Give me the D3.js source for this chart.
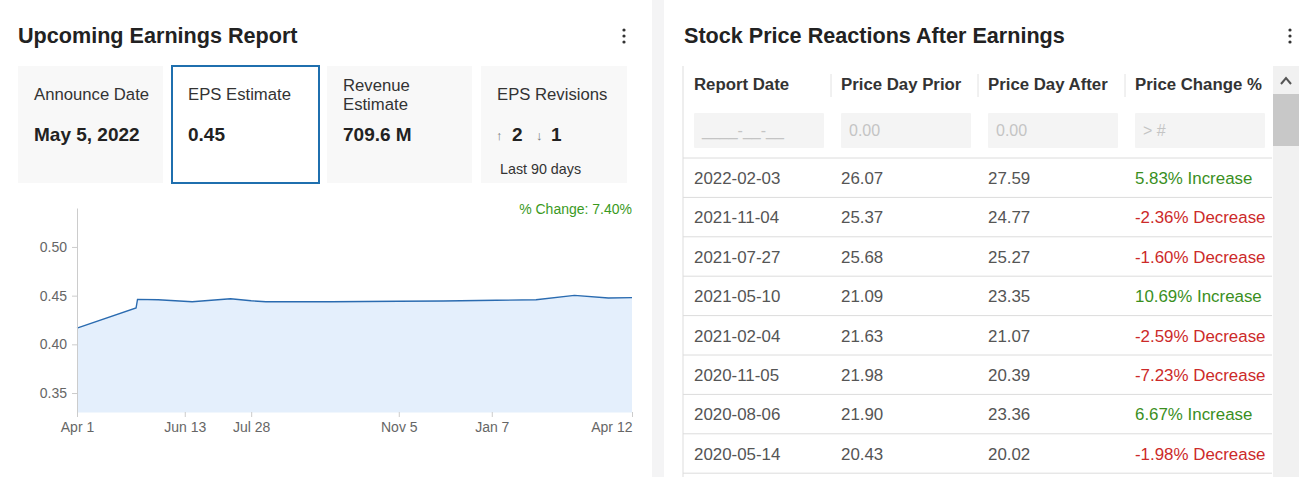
<!DOCTYPE html>
<html><head><meta charset="utf-8">
<script src="https://cdn.jsdelivr.net/npm/d3@7"></script>
<style>
html,body{margin:0;padding:0;background:#fff;}
svg{display:block;font-family:"Liberation Sans",Arial,sans-serif;}
</style></head>
<body>
<svg id="c" width="1304" height="477"></svg>
<script>
// ---- data ----
const epsDates = ["2021-04-01","2021-05-11","2021-05-12","2021-05-26","2021-06-18","2021-07-14","2021-07-28","2021-08-07","2021-09-20","2021-11-05","2021-12-05","2022-01-10","2022-02-06","2022-03-04","2022-03-27","2022-04-12"];
const epsValues = [0.4166,0.4373,0.4462,0.4458,0.4438,0.4468,0.4447,0.4438,0.4438,0.4442,0.4445,0.4452,0.4458,0.4503,0.4476,0.4480];
const yTicks = [0.35,0.40,0.45,0.50];
const xTickDates = ["2021-04-01","2021-06-13","2021-07-28","2021-11-05","2022-01-07","2022-04-12"];
const xTickLabels = ["Apr 1","Jun 13","Jul 28","Nov 5","Jan 7","Apr 12"];
const cardLabels = [["Announce Date"],["EPS Estimate"],["Revenue","Estimate"],["EPS Revisions"]];
const cardValues = ["May 5, 2022","0.45","709.6 M",""];
const revisionsUp = 2, revisionsDown = 1;
const pctChangeText = "% Change: 7.40%";
const tableHeaders = ["Report Date","Price Day Prior","Price Day After","Price Change %"];
const filterPlaceholders = ["____-__-__","0.00","0.00","> #"];
const reportDates = ["2022-02-03","2021-11-04","2021-07-27","2021-05-10","2021-02-04","2020-11-05","2020-08-06","2020-05-14"];
const pricePrior = ["26.07","25.37","25.68","21.09","21.63","21.98","21.90","20.43"];
const priceAfter = ["27.59","24.77","25.27","23.35","21.07","20.39","23.36","20.02"];
const priceChange = [5.83,-2.36,-1.60,10.69,-2.59,-7.23,6.67,-1.98];

const svg = d3.select("#c");
// gutter
svg.append("rect").attr("x",652).attr("y",0).attr("width",12).attr("height",477).attr("fill","#f4f4f5");

// titles
svg.append("text").attr("x",18).attr("y",43).attr("font-size",21.6).attr("font-weight","bold").attr("fill","#222").text("Upcoming Earnings Report");
svg.append("text").attr("x",684).attr("y",43).attr("font-size",21.6).attr("font-weight","bold").attr("fill","#222").text("Stock Price Reactions After Earnings");
function kebab(x,y){ [ -6,0,6 ].forEach(d=>svg.append("circle").attr("cx",x).attr("cy",y+d).attr("r",1.6).attr("fill","#333")); }
kebab(624,36); kebab(1290,36);

// cards
const cardX = [18,172,327,481], cardW=[145,147,145,146];
cardX.forEach((x,i)=>{
  const g = svg.append("g");
  if(i===1){
    g.append("rect").attr("x",x).attr("y",66).attr("width",cardW[i]).attr("height",117).attr("fill","#fff").attr("stroke","#1f6fae").attr("stroke-width",2);
  } else {
    g.append("rect").attr("x",x).attr("y",66).attr("width",cardW[i]).attr("height",117).attr("fill","#f8f8f8");
  }
  const lab = cardLabels[i];
  const ly = lab.length===2 ? 91 : 100;
  lab.forEach((t,j)=>g.append("text").attr("x",x+16).attr("y",ly+j*19).attr("font-size",16.7).attr("fill","#333").text(t));
  if(cardValues[i]) g.append("text").attr("x",x+16).attr("y",141).attr("font-size",19).attr("font-weight","bold").attr("fill","#222").text(cardValues[i]);
});
// revisions
{
  const x=496;
  svg.append("text").attr("x",x).attr("y",140).attr("font-size",13).attr("fill","#777").text("↑");
  svg.append("text").attr("x",x+16).attr("y",141).attr("font-size",19).attr("font-weight","bold").attr("fill","#222").text(revisionsUp);
  svg.append("text").attr("x",x+40).attr("y",140).attr("font-size",13).attr("fill","#777").text("↓");
  svg.append("text").attr("x",x+55).attr("y",141).attr("font-size",19).attr("font-weight","bold").attr("fill","#222").text(revisionsDown);
  svg.append("text").attr("x",x+4).attr("y",174).attr("font-size",14.3).attr("fill","#333").text("Last 90 days");
}

// chart
const parse = d3.timeParse("%Y-%m-%d");
const data = epsDates.map((d,i)=>({date:parse(d),v:epsValues[i]}));
const x = d3.scaleTime().domain([parse("2021-04-01"),parse("2022-04-12")]).range([77,632]);
const y = d3.scaleLinear().domain([0.33,0.54]).range([412.5,208]);
const curve = d3.curveLinear;
svg.append("path").datum(data).attr("fill","#e4effc")
  .attr("d",d3.area().x(d=>x(d.date)).y0(y(0.33)).y1(d=>y(d.v)).curve(curve));
svg.append("path").datum(data).attr("fill","none").attr("stroke","#2a6bb0").attr("stroke-width",1.4)
  .attr("d",d3.line().x(d=>x(d.date)).y(d=>y(d.v)).curve(curve));

const yAxis = svg.append("g").attr("transform","translate(77,0)")
  .call(d3.axisLeft(y).tickValues(yTicks).tickFormat(d3.format(".2f")).tickSize(5).tickSizeOuter(0));
yAxis.select(".domain").attr("stroke","#ccc");
yAxis.selectAll(".tick line").attr("stroke","#ccc");
yAxis.selectAll("text").attr("font-size",14).attr("fill","#666").attr("font-family","Liberation Sans, Arial, sans-serif").attr("dx","-2");

const xAxis = svg.append("g").attr("transform","translate(0,412)")
  .call(d3.axisBottom(x).tickValues(xTickDates.map(parse)).tickFormat((d,i)=>xTickLabels[i]).tickSize(5).tickSizeOuter(0));
xAxis.select(".domain").remove();
xAxis.selectAll(".tick line").attr("stroke","#ccc");
xAxis.selectAll("text").attr("font-size",14).attr("fill","#666").attr("font-family","Liberation Sans, Arial, sans-serif").attr("dy","0.85em");
xAxis.selectAll("text").filter((d,i)=>i===xTickDates.length-1).attr("text-anchor","end");

svg.append("text").attr("x",632).attr("y",214).attr("text-anchor","end").attr("font-size",14).attr("fill","#3a9a1e").text(pctChangeText);

// table
const colX = [694,841,988,1135];
const tLeft = 683, tRight = 1272;
svg.append("line").attr("x1",tLeft).attr("x2",tLeft).attr("y1",66).attr("y2",477).attr("stroke","#ddd");
tableHeaders.forEach((h,i)=>{
  svg.append("text").attr("x",colX[i]).attr("y",90).attr("font-size",16.8).attr("font-weight","bold").attr("fill","#333").text(h);
  if(i>0) svg.append("line").attr("x1",colX[i]-10).attr("x2",colX[i]-10).attr("y1",74).attr("y2",97).attr("stroke","#e2e2e2");
  svg.append("rect").attr("x",colX[i]).attr("y",113).attr("width",130).attr("height",35).attr("fill","#f4f4f4").attr("rx",1);
  svg.append("text").attr("x",colX[i]+8).attr("y",136).attr("font-size",16).attr("fill","#c4c4c4").text(filterPlaceholders[i]);
});
const rowY = d3.scaleLinear().domain([0,1]).range([158,197.4]);
d3.range(reportDates.length+1).forEach(r=>{
  svg.append("line").attr("x1",tLeft).attr("x2",tRight).attr("y1",rowY(r)).attr("y2",rowY(r)).attr("stroke","#dcdcdc");
});
reportDates.forEach((d,r)=>{
  const yy = rowY(r)+26;
  svg.append("text").attr("x",colX[0]).attr("y",yy).attr("font-size",16.9).attr("fill","#555").text(d);
  svg.append("text").attr("x",colX[1]).attr("y",yy).attr("font-size",16.9).attr("fill","#555").text(pricePrior[r]);
  svg.append("text").attr("x",colX[2]).attr("y",yy).attr("font-size",16.9).attr("fill","#555").text(priceAfter[r]);
  const c = priceChange[r];
  svg.append("text").attr("x",colX[3]).attr("y",yy).attr("font-size",16.9)
    .attr("fill", c>=0 ? "#3a8f1e" : "#cc2a2a")
    .text(c.toFixed(2)+"% "+(c>=0?"Increase":"Decrease"));
});
// scrollbar
svg.append("rect").attr("x",1273).attr("y",66).attr("width",26).attr("height",411).attr("fill","#f1f1f1");
svg.append("rect").attr("x",1273).attr("y",94).attr("width",26).attr("height",52).attr("fill","#c8c8c8");
svg.append("path").attr("d","M1281,84 L1286,78 L1291,84").attr("fill","none").attr("stroke","#555").attr("stroke-width",2);
</script>
</body></html>
